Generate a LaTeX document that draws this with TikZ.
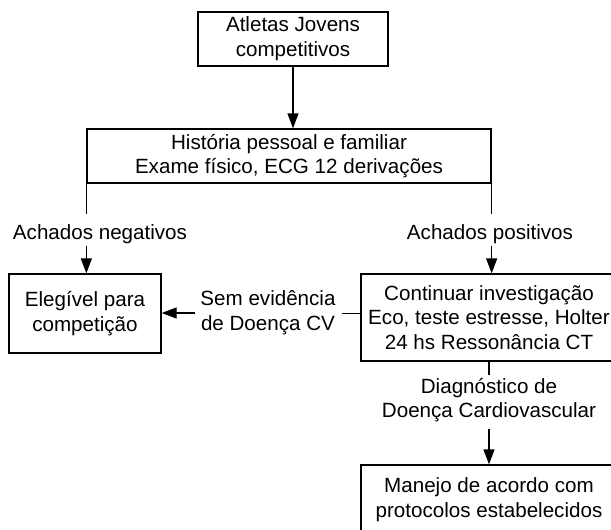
\documentclass[tikz,border=0pt]{standalone}
\usepackage{fontspec}
\setmainfont{Liberation Sans}
\usetikzlibrary{arrows.meta}
\tikzset{
  caixa/.style={draw, align=center, inner sep=0pt},
  rotulo/.style={align=center, inner sep=0pt},
  seta/.style={-{Triangle[length=7.5pt,width=5.5pt]}}
}
\begin{document}
\begin{tikzpicture}[x=0.5pt,y=-0.5pt,line width=0.65pt,font=\fontsize{10.3pt}{12.4pt}\selectfont]
  \useasboundingbox (0,0) rectangle (611,530);
  % caixas
  \node[caixa, minimum width=95pt, minimum height=27pt] (atletas) at (293,39) {Atletas Jovens\\competitivos};
  \node[caixa, minimum width=202pt, minimum height=27pt] (historia) at (289,156) {História pessoal e familiar\\Exame físico, ECG 12 derivações};
  \node[caixa, minimum width=76pt, minimum height=39.5pt] (elegivel) at (85,313.5) {Elegível para\\competição};
  \node[caixa, minimum width=128pt, minimum height=43.5pt] (investiga) at (489,317.5) {Continuar investigação\\Eco, teste estresse, Holter\\24 hs Ressonância CT};
  \node[caixa, minimum width=128pt, minimum height=35pt] (manejo) at (489,500) {Manejo de acordo com\\protocolos estabelecidos};
  % rotulos
  \node[rotulo] (negativos) at (100,234) {Achados negativos};
  \node[rotulo] (positivos) at (490,234) {Achados positivos};
  \node[rotulo] (semdoenca) at (268,313) {Sem evidência\\de Doença CV};
  \node[rotulo] (diagnostico) at (489,400) {Diagnóstico de\\Doença Cardiovascular};
  % setas
  \draw[seta] (atletas.south) -- (atletas.south |- historia.north);
  \draw (historia.south west) -- ([yshift=-15pt]historia.south west);
  \draw[seta] ([yshift=-31pt]historia.south west) -- (elegivel.north -| historia.south west);
  \draw (historia.south east) -- ([yshift=-15pt]historia.south east);
  \draw[seta] ([yshift=-31pt]historia.south east) -- (investiga.north -| historia.south east);
  \draw ([yshift=2pt]investiga.west) -- ([yshift=2pt,xshift=-9pt]investiga.west);
  \draw[seta] ([xshift=-2.5pt]semdoenca.west) -- (elegivel.east |- semdoenca.west);
  \draw (investiga.south) -- ([yshift=-6.5pt]investiga.south);
  \draw[seta] ([yshift=-33.5pt]investiga.south) -- (manejo.north);
\end{tikzpicture}
\end{document}
